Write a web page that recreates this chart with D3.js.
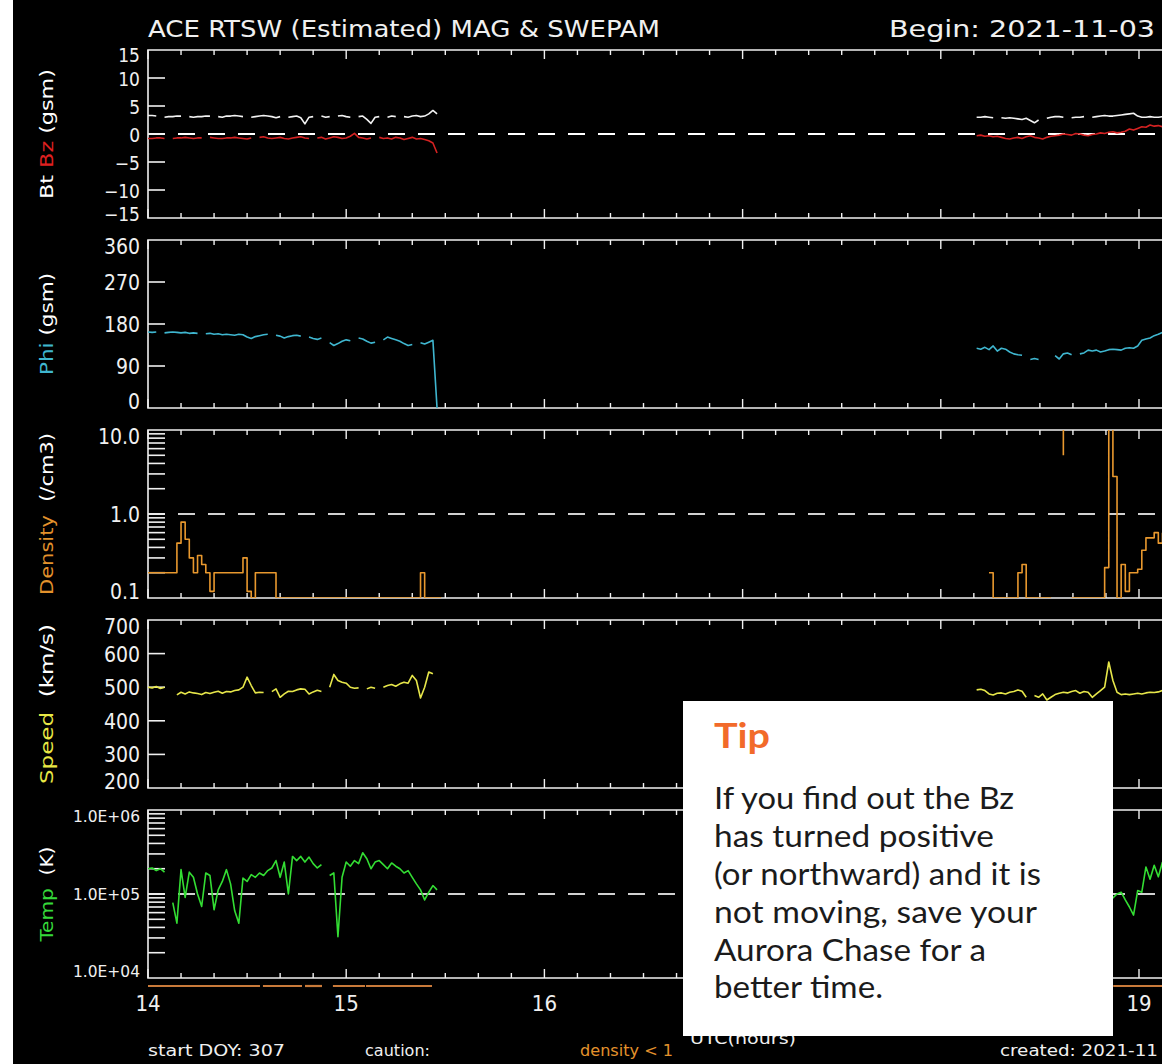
<!DOCTYPE html>
<html><head><meta charset="utf-8">
<script src="https://cdn.jsdelivr.net/npm/d3@7"></script>
<style>
html,body{margin:0;padding:0;background:#fff;}
svg{display:block;}
</style></head><body>
<svg id="c" width="1162" height="1064"></svg>
<script>
// ---------------- DATA ----------------
const dayTicks = [14, 15, 16, 17, 18, 19];
const dayLabels = ["14", "15", "16", "17", "18", "19"];
const segStart = [14.0, 18.16];      // day-of-month at first sample of each data segment
const stepDays = 1 / 48;             // half-hour samples

// Bt (nT)
const btA = [3.3,3.3,3.2,null,3.0,3.1,3.1,3.2,3.2,null,
  3.1,3.0,3.1,3.1,3.2,3.2,null,3.1,3.0,3.2,
  3.2,3.3,3.2,3.1,null,3.0,3.1,3.2,3.3,3.2,
  3.1,2.9,3.1,null,3.0,3.1,3.2,2.9,1.8,3.0,
  3.1,null,3.2,3.0,3.1,null,3.2,3.3,3.1,3.0,
  null,3.1,3.2,2.6,1.9,3.0,3.1,null,3.0,3.2,
  3.1,null,3.1,3.0,3.2,3.3,3.1,3.2,3.6,4.2,
  3.6,null];
const btB = [null,3.0,3.0,3.1,3.0,2.9,null,2.9,2.8,2.9,2.8,2.7,2.6,2.8,2.4,2.0,2.5,null,2.8,3.0,3.1,3.1,3.0,null,2.9,3.0,3.0,3.1,null,3.0,3.1,3.2,3.3,3.2,3.2,3.3,3.4,3.5,3.6,3.7,3.2,3.0,3.0,3.1,3.0,3.0,3.1];
// Bz (nT)
const bzA = [-0.8,-0.8,-0.7,-0.7,-0.8,null,-0.8,-0.7,-0.7,-0.6,
  -0.7,-0.8,-0.7,-0.7,null,-0.6,-0.7,-0.8,-0.8,-0.7,
  -0.7,-0.6,-0.7,-0.8,-0.9,-0.7,null,-0.6,-0.5,-0.7,
  -0.8,-0.7,-0.6,-0.8,-0.9,-0.7,-0.6,-0.5,-0.7,-0.8,
  null,-0.7,-0.6,-0.9,-0.7,-0.5,-0.6,-0.8,-0.7,-0.4,
  0.1,-0.6,-0.7,-0.9,-0.7,null,-0.6,-0.8,-0.7,-0.9,
  -0.6,-0.7,-1.0,-0.8,-0.6,-0.9,-0.8,-1.0,-1.2,-1.6,
  -3.4,null];
const bzB = [null,-0.3,-0.2,-0.4,-0.3,-0.5,-0.4,-0.6,-0.8,-0.9,-0.7,-0.6,-0.8,-0.5,-0.3,-0.6,-0.7,-0.9,-0.6,-0.4,-0.3,-0.2,0.0,-0.1,-0.2,0.1,0.0,-0.2,-0.3,-0.1,0.0,0.2,0.1,0.3,0.4,0.2,0.3,0.5,0.9,0.7,1.0,1.3,1.2,1.6,1.4,1.5,1.3];
// Phi (deg)
const phiA = [163,162,163,null,161,162,163,162,161,162,
  160,161,160,null,159,160,158,159,157,158,
  157,156,158,157,152,149,153,155,157,158,
  null,156,154,150,153,155,156,154,null,152,
  149,147,150,null,140,134,138,143,146,144,
  null,150,148,143,139,141,null,146,152,149,
  146,143,138,134,136,null,140,137,141,145,
  0,null];
const phiB = [null,128,126,130,125,133,122,128,126,120,116,114,113,null,104,106,104,null,110,null,112,105,116,118,114,null,116,118,124,122,124,120,122,125,126,125,124,128,129,128,133,145,148,150,155,158,162];
// Density (/cm3)
const densA = [0.2,0.2,0.2,0.2,0.2,0.2,0.2,0.45,0.8,0.5,
  0.3,0.2,0.32,0.25,0.2,0.12,0.2,0.2,0.2,0.2,
  0.2,0.2,0.2,0.3,0.12,0.1,0.2,0.2,0.2,0.2,
  0.2,0.1,0.1,0.1,0.1,0.1,0.1,0.1,0.1,0.1,
  0.1,0.1,0.1,0.1,0.1,0.1,0.1,0.1,0.1,0.1,
  0.1,0.1,0.1,0.1,0.1,0.1,0.1,0.1,0.1,0.1,
  0.1,0.1,0.1,0.1,0.1,0.1,0.2,0.1,0.1,0.1,
  0.1,0.1];
const densB = [null,null,null,null,0.2,0.1,0.1,0.1,0.1,0.1,0.1,0.2,0.25,0.1,0.1,0.1,0.1,0.1,0.1,0.1,null,15,5,null,0.1,0.1,0.1,0.1,0.1,0.1,0.1,0.1,0.23,12,2.8,0.1,0.25,0.12,0.2,0.2,0.22,0.37,0.52,0.52,0.6,0.45,0.6];
// Speed (km/s)
const speedA = [500,498,502,496,500,null,null,477,485,480,
  486,483,481,478,484,481,485,488,482,487,
  486,490,492,500,530,505,483,485,484,null,
  487,495,470,480,488,487,492,495,494,480,
  486,491,487,null,500,538,520,515,512,500,
  497,498,null,495,500,497,null,500,505,508,
  503,510,515,512,535,520,468,500,545,540,
  null,510];
const speedB = [null,492,494,490,480,477,482,483,480,485,487,492,488,470,null,475,470,480,462,470,478,482,485,483,487,490,482,487,485,470,480,490,500,575,520,485,478,480,478,480,482,480,483,485,484,486,490];
// Temperature (K)
const tempA = [2.0e5,2.04e5,1.9e5,2.0e5,1.82e5,null,7.9e4,4.5e4,1.95e5,9.1e4,
  1.82e5,1.58e5,1.0e5,7.1e4,1.78e5,1.66e5,6.5e4,1.12e5,1.41e5,1.95e5,
  1.32e5,6.3e4,4.5e4,1.55e5,1.41e5,1.7e5,1.58e5,1.78e5,1.66e5,1.9e5,
  2.04e5,2.5e5,1.58e5,2.4e5,1.0e5,2.8e5,2.5e5,2.8e5,2.4e5,2.75e5,
  2.3e5,2.04e5,2.24e5,null,1.66e5,1.78e5,3.1e4,1.58e5,2.4e5,2.14e5,
  2.5e5,2.3e5,3.1e5,2.63e5,2.0e5,2.4e5,2.5e5,2.24e5,2.0e5,2.34e5,
  2.14e5,2.0e5,1.78e5,1.9e5,1.58e5,1.32e5,1.12e5,8.5e4,1.05e5,1.26e5,
  1.12e5,null];
const tempB = [null,1.4e5,1.2e5,1.5e5,1.1e5,9e4,1.3e5,1.6e5,1.2e5,1.0e5,1.4e5,1.7e5,1.3e5,1.1e5,1.5e5,1.2e5,9e4,1.3e5,1.6e5,1.4e5,1.2e5,1.5e5,1.3e5,1.1e5,1.4e5,1.6e5,1.2e5,1.0e5,1.3e5,1.5e5,1.2e5,1.1e5,1.0e5,9.5e4,9.0e4,1.0e5,1.05e5,8.5e4,7.0e4,5.6e4,1.1e5,1.05e5,2.1e5,1.5e5,2.2e5,1.6e5,2.4e5];
// "density < 1" caution intervals (day)
const cautionSpans = [[14.0,14.565],[14.58,14.777],[14.792,14.878],[14.933,15.095],[15.10,15.433],[18.25,18.815],[18.87,19.15]];

// tick labels per panel
const magTicks = [15,10,5,0,-5,-10,-15];
const magLabels = ["15","10","5","0","\u22125","\u221210","\u221215"];
const phiTicks = [360,270,180,90,0];
const phiLabels = ["360","270","180","90","0"];
const densTicks = [10,1,0.1];
const densLabels = ["10.0","1.0","0.1"];
const speedTicks = [700,600,500,400,300,200];
const speedLabels = ["700","600","500","400","300","200"];
const tempTicks = [1e6,1e5,1e4];
const tempLabels = ["1.0E+06","1.0E+05","1.0E+04"];

const titleText = "ACE RTSW (Estimated) MAG & SWEPAM";
const beginText = "Begin: 2021-11-03";
const tipTitle = "Tip";
const tipLines = ["If you find out the Bz","has turned positive","(or northward) and it is","not moving, save your","Aurora Chase for a","better time."];

// ---------------- LAYOUT / STYLE ----------------
const W = 1162, H = 1064;
const F = "'DejaVu Sans Condensed','DejaVu Sans',sans-serif";
const svg = d3.select("#c");
svg.append("rect").attr("x", 13).attr("y", 0).attr("width", W - 13).attr("height", H).attr("fill", "#000");

const x = d3.scaleLinear().domain([14, 19]).range([148, 1139]);
const left = 148, right = 1200, ph = 168;
const tops = [50, 240, 430, 620, 810];

const panels = [
  {scale: d3.scaleLinear().domain([-15, 15]), ticks: magTicks, labels: magLabels, inner: [10,5,0,-5,-10], dash: 0, dashColor: "#ffffff",
   title: [["Bt ", "#ffffff"], ["Bz", "#e02020"], [" (gsm)", "#ffffff"]], titleLen: 130, lsize: 19, edge: [5, -4]},
  {scale: d3.scaleLinear().domain([0, 360]), ticks: phiTicks, labels: phiLabels, inner: [270,180,90],
   title: [["Phi", "#3fb6cf"], [" (gsm)", "#ffffff"]], titleLen: 102, lsize: 21},
  {scale: d3.scaleLog().domain([0.1, 10]), ticks: densTicks, labels: densLabels, log: true, dash: 1, dashColor: "#d0d0d0",
   title: [["Density", "#e3922c"], ["  (/cm3)", "#ffffff"]], titleLen: 162, lsize: 21},
  {scale: d3.scaleLinear().domain([200, 700]), ticks: speedTicks, labels: speedLabels, inner: [600,500,400,300],
   title: [["Speed", "#e8e845"], ["  (km/s)", "#ffffff"]], titleLen: 160, lsize: 21},
  {scale: d3.scaleLog().domain([1e4, 1e6]), ticks: tempTicks, labels: tempLabels, log: true, dash: 1e5, dashColor: "#d0d0d0",
   title: [["Temp", "#35d83a"], ["  (K)", "#ffffff"]], titleLen: 95, lsize: 15, llen: 67}
];

const series = [
  {p: 0, color: "#f2f2f2", segs: [btA, btB]},
  {p: 0, color: "#d42222", segs: [bzA, bzB]},
  {p: 1, color: "#3fb6cf", segs: [phiA, phiB]},
  {p: 2, color: "#e8982e", segs: [densA, densB], step: true},
  {p: 3, color: "#e6e64a", segs: [speedA, speedB]},
  {p: 4, color: "#33dd33", segs: [tempA, tempB]}
];

const defs = svg.append("defs");
panels.forEach((P, k) => {
  const top = tops[k], bot = top + ph;
  P.scale.range([bot, top]);
  defs.append("clipPath").attr("id", "clip" + k).append("rect")
    .attr("x", left).attr("y", top).attr("width", right - left).attr("height", ph);
  const g = svg.append("g");

  if (P.dash !== undefined) {
    g.append("line").attr("x1", left).attr("x2", right)
      .attr("y1", P.scale(P.dash)).attr("y2", P.scale(P.dash))
      .attr("stroke", P.dashColor).attr("stroke-width", 2).attr("stroke-dasharray", "17,13");
  }
  g.append("path").attr("d", `M${right},${top}H${left}V${bot}H${right}`)
    .attr("fill", "none").attr("stroke", "#f0f0f0").attr("stroke-width", 1.6);

  const xt = d3.range(0, 31).map(i => 14 + i / 6).filter(d => x(d) <= right);
  g.selectAll(null).data(xt).join("line")
    .attr("x1", d => x(d)).attr("x2", d => x(d))
    .attr("y1", top).attr("y2", d => top + (Math.abs(d - Math.round(d)) < 1e-6 ? 9 : 5))
    .attr("stroke", "#f0f0f0").attr("stroke-width", 1.4);
  g.selectAll(null).data(xt).join("line")
    .attr("x1", d => x(d)).attr("x2", d => x(d))
    .attr("y1", bot).attr("y2", d => bot - (Math.abs(d - Math.round(d)) < 1e-6 ? 9 : 5))
    .attr("stroke", "#f0f0f0").attr("stroke-width", 1.4);

  const yt = P.log ? P.scale.ticks().filter(v => v > P.scale.domain()[0] * 1.0001 && v < P.scale.domain()[1] * 0.9999) : P.inner;
  g.selectAll(null).data(yt).join("line")
    .attr("x1", left).attr("x2", left + 17)
    .attr("y1", d => P.scale(d)).attr("y2", d => P.scale(d))
    .attr("stroke", "#f0f0f0").attr("stroke-width", 1.6);

  const edge = P.edge || [7, -6];
  g.selectAll(null).data(P.ticks).join("text")
    .attr("x", 140)
    .attr("y", (d, i) => {
      const y = P.scale(d);
      if (i === 0) return y + edge[0];
      if (i === P.ticks.length - 1) return y + edge[1];
      return y + 1;
    })
    .attr("text-anchor", "end").attr("dominant-baseline", "central")
    .attr("font-family", F).attr("font-stretch", "condensed").attr("font-size", P.lsize)
    .attr("fill", "#f0f0f0")
    .each(function () { if (P.llen) d3.select(this).attr("textLength", P.llen).attr("lengthAdjust", "spacingAndGlyphs"); })
    .text((d, i) => P.labels[i]);

  const t = svg.append("text")
    .attr("transform", `translate(53,${top + ph / 2}) rotate(-90)`)
    .attr("text-anchor", "middle").attr("font-family", F).attr("font-size", 17)
    .attr("textLength", P.titleLen).attr("lengthAdjust", "spacingAndGlyphs");
  P.title.forEach(([s, c]) => t.append("tspan").attr("fill", c).attr("xml:space", "preserve").text(s));
});

series.forEach(S => {
  const P = panels[S.p];
  const line = d3.line()
    .defined(d => d.v !== null)
    .x(d => x(d.t)).y(d => P.scale(d.v))
    .curve(S.step ? d3.curveStepAfter : d3.curveLinear);
  const g = svg.append("g").attr("clip-path", `url(#clip${S.p})`);
  S.segs.forEach((arr, s) => {
    const pts = arr.map((v, i) => ({t: segStart[s] + i * stepDays, v}));
    g.append("path").datum(pts).attr("d", line)
      .attr("fill", "none").attr("stroke", S.color).attr("stroke-width", 1.6)
      .attr("stroke-linejoin", "round");
  });
});

svg.selectAll(null).data(cautionSpans).join("line")
  .attr("x1", d => x(d[0])).attr("x2", d => x(d[1]))
  .attr("y1", 986).attr("y2", 986)
  .attr("stroke", "#c97a3a").attr("stroke-width", 2.2);

svg.selectAll(null).data(dayTicks).join("text")
  .attr("x", d => x(d)).attr("y", 1011)
  .attr("text-anchor", "middle").attr("font-family", F).attr("font-stretch", "condensed")
  .attr("font-size", 22).attr("fill", "#f0f0f0")
  .text((d, i) => dayLabels[i]);

svg.append("text").attr("x", 148).attr("y", 37).attr("font-family", F).attr("font-size", 23)
  .attr("fill", "#f0f0f0").attr("textLength", 512).attr("lengthAdjust", "spacingAndGlyphs").text(titleText);
svg.append("text").attr("x", 889).attr("y", 37).attr("font-family", F).attr("font-size", 23)
  .attr("fill", "#f0f0f0").attr("textLength", 266).attr("lengthAdjust", "spacingAndGlyphs").text(beginText);

const foot = [
  {t: "start DOY: 307", x: 148, len: 137, c: "#f0f0f0"},
  {t: "caution:", x: 365, len: 65, c: "#f0f0f0"},
  {t: "density < 1", x: 580, len: 93, c: "#e3922c"},
  {t: "UTC(hours)", x: 690, len: 106, c: "#f0f0f0", y: 1044, fs: 15},
  {t: "created: 2021-11", x: 1000, len: 158, c: "#f0f0f0"}
];
foot.forEach(f => svg.append("text").attr("x", f.x).attr("y", f.y || 1056)
  .attr("font-family", F).attr("font-size", f.fs || 15).attr("fill", f.c)
  .attr("textLength", f.len).attr("lengthAdjust", "spacingAndGlyphs").text(f.t));

svg.append("rect").attr("x", 683).attr("y", 701).attr("width", 430).attr("height", 335).attr("fill", "#ffffff");
svg.append("text").attr("x", 714).attr("y", 748).attr("font-family", "Lato, 'Open Sans', sans-serif")
  .attr("font-weight", 700).attr("font-size", 35).attr("fill", "#f26a2a")
  .attr("textLength", 56).attr("lengthAdjust", "spacingAndGlyphs").text(tipTitle);
const tipLens = [300, 280, 327, 323, 272, 169];
const tipBase = [809, 847, 885, 923, 961, 998];
tipLines.forEach((s, i) => svg.append("text").attr("x", 714).attr("y", tipBase[i])
  .attr("font-family", "Lato, 'Open Sans', sans-serif").attr("font-weight", 400).attr("font-size", 30).attr("fill", "#1b1b1b")
  .attr("textLength", tipLens[i]).attr("lengthAdjust", "spacingAndGlyphs").text(s));
</script></body></html>
